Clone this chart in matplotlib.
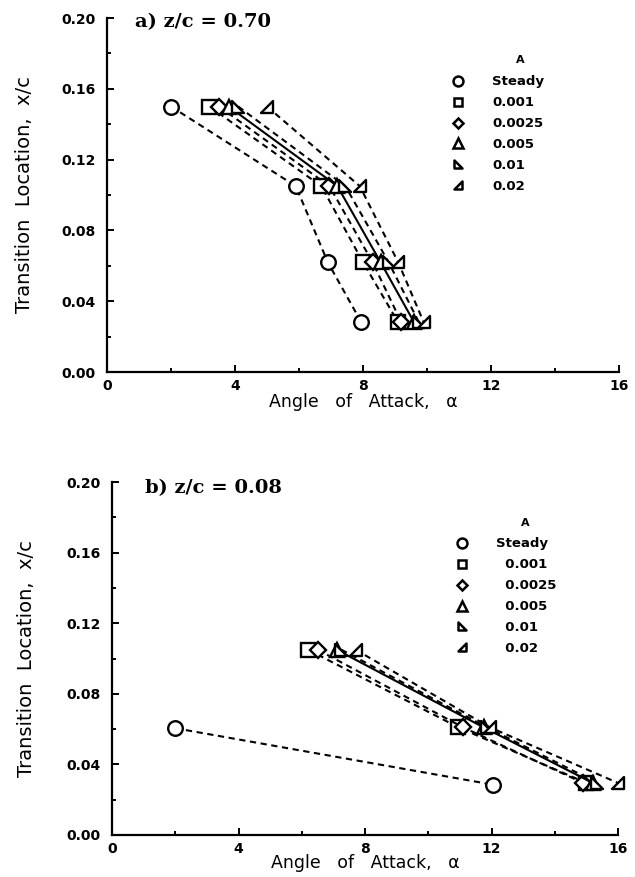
import matplotlib
matplotlib.use("Agg")
import matplotlib.pyplot as plt
from matplotlib.lines import Line2D
from matplotlib.path import Path

# ---- data ----
series_labels = ["Steady", "0.001", "0.0025", "0.005", "0.01", "0.02"]
legend_title = "A"

# panel a) z/c = 0.70
a_y = [0.15, 0.105, 0.062, 0.028]
a_steady = [2.0, 5.9, 6.9, 7.95]
a_001 = [3.2, 6.7, 8.0, 9.1]
a_0025 = [3.5, 6.95, 8.3, 9.2]
a_005 = [3.8, 7.2, 8.55, 9.6]
a_01 = [4.1, 7.45, 8.8, 9.75]
a_02 = [5.0, 7.9, 9.1, 9.9]

# panel b) z/c = 0.08
b_steady_x = [2.0, 12.05]
b_steady_y = [0.0605, 0.0285]
b_y = [0.105, 0.061, 0.0295]
b_001 = [6.2, 10.95, 15.0]
b_0025 = [6.5, 11.1, 14.9]
b_005 = [7.1, 11.75, 15.2]
b_01 = [7.25, 11.85, 15.35]
b_02 = [7.7, 11.95, 16.0]

x_ticks = [0, 4, 8, 12, 16]
x_minor = [2, 6, 10, 14]
y_ticks = [0.00, 0.04, 0.08, 0.12, 0.16, 0.20]
y_minor = [0.02, 0.06, 0.10, 0.14, 0.18]
y_tick_labels = ["0.00", "0.04", "0.08", "0.12", "0.16", "0.20"]

# ---- markers ----
tri_left = Path([(-1, 1), (-1, -1), (1, -1), (-1, 1)],
                [Path.MOVETO, Path.LINETO, Path.LINETO, Path.CLOSEPOLY])
tri_right = Path([(1, 1), (1, -1), (-1, -1), (1, 1)],
                 [Path.MOVETO, Path.LINETO, Path.LINETO, Path.CLOSEPOLY])
markers = ["o", "s", "D", "^", tri_left, tri_right]
msizes = [10.5, 9.5, 8, 10, 8.5, 8.5]
styles = ["--", "--", "--", "-", "--", "--"]

fig = plt.figure(figsize=(6.35, 8.77), dpi=100)
W, H = 635, 877
ax1 = fig.add_axes([107 / W, 1 - 372 / H, (619 - 107) / W, (372 - 18) / H])
ax2 = fig.add_axes([112 / W, 1 - 835 / H, (618 - 112) / W, (835 - 482) / H])

tick_font = dict(family="DejaVu Sans", weight="bold", size=10)


def style_axes(ax):
    ax.set_xlim(0, 16)
    ax.set_ylim(0, 0.20)
    for s in ["top", "right"]:
        ax.spines[s].set_visible(False)
    for s in ["left", "bottom"]:
        ax.spines[s].set_linewidth(1.6)
    ax.set_xticks(x_ticks)
    ax.set_xticks(x_minor, minor=True)
    ax.set_yticks(y_ticks)
    ax.set_yticks(y_minor, minor=True)
    ax.set_xticklabels([str(t) for t in x_ticks], fontdict=tick_font)
    ax.set_yticklabels(y_tick_labels, fontdict=tick_font)
    ax.tick_params(which="both", direction="in", width=1.4)
    ax.tick_params(which="major", length=5)
    ax.tick_params(which="minor", length=3)
    ax.tick_params(axis="x", which="major", pad=5)
    ax.tick_params(axis="y", which="major", pad=8)
    ax.set_xlabel("Angle   of   Attack,   α", fontsize=12.5)
    ax.set_ylabel("Transition  Location,  x/c", fontsize=14)


def plot_series(ax, xs_list, ys_list):
    for xs, ys, m, ms, ls in zip(xs_list, ys_list, markers, msizes, styles):
        kw = dict(dashes=(3, 2.2)) if ls == "--" else {}
        ax.plot(xs, ys, linestyle=ls, color="black", lw=1.5,
                marker=m, markersize=ms, markerfacecolor="white",
                markeredgecolor="black", markeredgewidth=1.7,
                clip_on=False, **kw)


def add_legend(ax, anchor, labels):
    handles = [Line2D([], [], linestyle="none", marker=m, markersize=ms * 0.68,
                      markerfacecolor="white", markeredgecolor="black",
                      markeredgewidth=1.8)
               for m, ms in zip(markers, msizes)]
    ax.legend(handles, labels, frameon=False,
              loc="upper left", bbox_to_anchor=anchor,
              prop=dict(family="DejaVu Sans", weight="bold", size=9.5),
              handlelength=1.0, handletextpad=2.1, labelspacing=0.6,
              borderaxespad=0, borderpad=0)


style_axes(ax1)
ax1.yaxis.set_label_coords(-0.143, 0.5)
ax1.xaxis.set_label_coords(0.5, -0.058)
plot_series(ax1, [a_steady, a_001, a_0025, a_005, a_01, a_02], [a_y] * 6)
add_legend(ax1, (0.673, 0.838), series_labels)
ax1.text((520 - 107) / 512, (372 - 60) / 354, legend_title, transform=ax1.transAxes,
         family="DejaVu Sans", weight="bold", fontsize=8, ha="center", va="center")
ax1.text(0.055, 0.988, "a) z/c = 0.70", transform=ax1.transAxes,
         family="DejaVu Serif", weight="bold", fontsize=14, va="center")

style_axes(ax2)
ax2.yaxis.set_label_coords(-0.150, 0.5)
ax2.xaxis.set_label_coords(0.5, -0.055)
plot_series(ax2, [b_steady_x, b_001, b_0025, b_005, b_01, b_02],
            [b_steady_y, b_y, b_y, b_y, b_y, b_y])
add_legend(ax2, (0.679, 0.843),
           [series_labels[0]] + ["  " + s for s in series_labels[1:]])
ax2.text((525 - 112) / 506, (835 - 523) / 353, legend_title, transform=ax2.transAxes,
         family="DejaVu Sans", weight="bold", fontsize=8, ha="center", va="center")
ax2.text(0.065, 0.983, "b) z/c = 0.08", transform=ax2.transAxes,
         family="DejaVu Serif", weight="bold", fontsize=14, va="center")

fig.savefig("out.png", dpi=100, facecolor="white")
